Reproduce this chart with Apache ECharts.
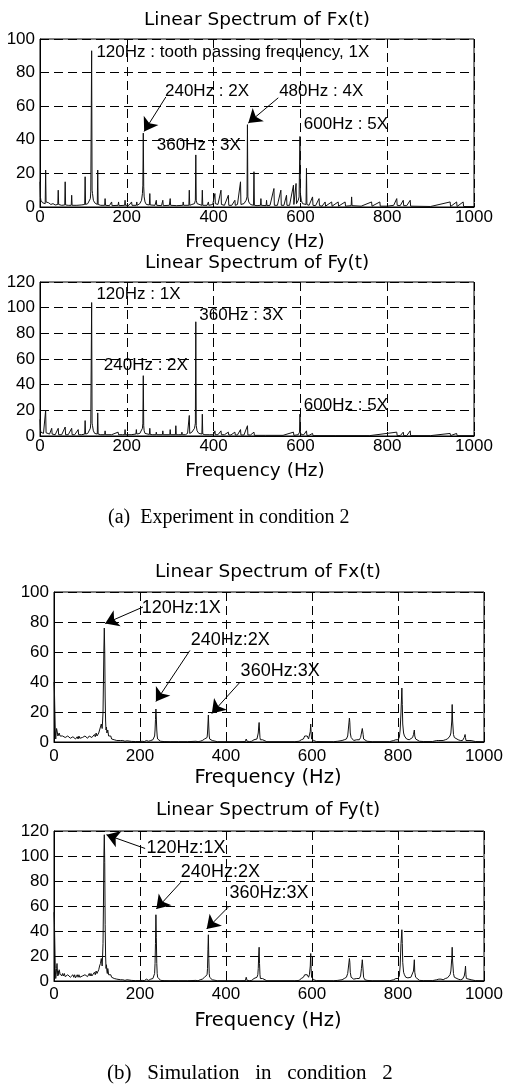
<!DOCTYPE html>
<html><head><meta charset="utf-8">
<script src="https://cdn.jsdelivr.net/npm/echarts@6/dist/echarts.min.js"></script>
<style>html,body{margin:0;padding:0;background:#fff}#c{width:506px;height:1086px}</style>
</head><body><div id="c"></div>
<script>
// ---------- data ----------
const titles = ['Linear Spectrum of Fx(t)', 'Linear Spectrum of Fy(t)', 'Linear Spectrum of Fx(t)', 'Linear Spectrum of Fy(t)'];
const xLabel = 'Frequency (Hz)';
const captions = ['(a)  Experiment in condition 2', '(b)   Simulation   in   condition   2'];
const yMax = [100, 120, 100, 120];

// [frequency Hz, amplitude]
const fxExp = [[0,15],[1,6],[2,4],[4,3],[6,2.5],[8,2],[10,2.5],[12,2],[13,22],[14,3],[16,2],[20,2.5],[25,1.5],[30,2],[35,1.2],[41,1.5],[42,10],[43,1.5],[50,1],[57,1.2],[58,15],[59,1.2],[65,1],[72,1],[73,7],[74,1],[85,1],[95,1.2],[103,1.5],[104,18],[105,1.5],[110,2],[114,3],[116,5],[117,9],[118,10],[119,93],[120,10],[121,8],[123,4],[126,2.5],[130,1.5],[132,1.5],[133,22],[134,1.5],[140,1],[149,1],[150,5],[151,1],[160,0.8],[165,3],[166,0.8],[180,1],[181,3],[182,0.8],[195,1],[196,4],[197,1],[205,1],[211,3],[212,1],[222,1],[223,3],[224,1],[230,2],[234,4],[236,8],[237,13],[238,44],[239,12],[240,6],[242,3],[245,1.5],[252,1.2],[253,8],[254,1.2],[265,1],[268,4],[269,1],[280,0.8],[283,4],[284,0.8],[298,1],[300,5],[301,1],[315,0.8],[329,1],[330,3],[331,1],[343,1],[344,10],[345,1],[350,1.5],[356,2],[358,4],[359,31],[360,4],[362,2],[366,1],[373,1],[374,10],[375,1],[385,1],[388,3],[389,1],[398,1.5],[403,8],[404,2],[410,1.5],[417,10],[418,1.5],[425,1],[434,7],[435,1],[442,1],[449,4],[450,1],[455,1.5],[462,15],[463,1.5],[470,2],[475,4],[477,6],[478,49],[479,6],[481,3],[485,1.5],[492,1],[493,21],[494,1],[500,0.8],[508,1],[509,5],[510,1],[521,0.8],[522,4],[523,0.8],[530,1],[539,11],[540,1],[547,1],[555,10],[556,1],[562,1],[568,7],[569,1],[575,1],[584,13],[585,1.5],[590,14],[591,2],[595,4],[597,6],[599,42],[600,8],[602,4],[605,2],[613,1.5],[614,23],[615,1.5],[620,1],[628,6],[629,1],[635,0.8],[643,5],[644,0.8],[650,0.5],[657,3],[658,0.5],[672,3],[673,0.5],[687,3],[688,0.5],[703,3],[704,0.5],[717,0.8],[718,6],[719,0.8],[740,0.5],[764,3],[765,0.5],[783,3],[784,0.5],[800,0.5],[815,1],[822,5],[823,1],[830,0.8],[837,4],[838,0.8],[845,0.8],[853,4],[854,0.5],[900,0.3],[945,3],[946,0.3],[960,3],[961,0.3],[975,3],[976,0.3],[1000,0.3]];

const fyExp = [[0,13],[1,5],[2,3],[4,2.5],[6,2],[8,2],[10,2.5],[12,2],[13,20],[14,2.5],[18,2],[22,1.5],[27,6],[28,1.5],[35,1],[42,6],[43,1],[50,1],[58,7],[59,1],[65,1],[73,6],[74,1],[80,1],[88,5],[89,1],[96,1],[103,1.5],[104,12],[105,1.5],[110,2],[114,3],[116,6],[117,10],[118,11],[119,104],[120,10],[121,8],[123,4],[126,2],[130,1.5],[132,1.5],[133,18],[134,1.5],[140,1],[149,1],[150,4],[151,1],[165,1],[180,3],[181,1],[190,1],[195,1],[196,5],[197,1],[210,1],[221,1.5],[222,5],[223,1.5],[230,2],[234,3],[236,6],[237,10],[238,47],[239,8],[240,4],[242,2],[246,1.2],[252,1.2],[253,6],[254,1.2],[260,1],[267,1],[268,3],[269,1],[282,1],[283,4],[284,1],[299,1],[300,5],[301,1],[312,1],[313,8],[314,1],[320,1],[326,1],[327,3],[328,1],[335,1],[340,2],[343,2],[344,16],[345,2],[350,3],[354,4],[356,6],[357,8],[358,10],[359,89],[360,8],[362,4],[366,2],[370,1.5],[373,1.5],[374,17],[375,1.5],[380,1],[390,1],[400,1],[403,4],[404,1],[410,1],[417,4],[418,1],[425,1],[434,3],[435,0.8],[440,0.8],[449,3],[450,0.8],[455,0.8],[462,5],[463,0.8],[470,0.8],[478,8],[479,0.8],[485,0.8],[493,3],[494,0.5],[520,0.5],[560,0.5],[584,3],[585,0.5],[595,1],[598,3],[599,17],[600,3],[602,1],[608,1],[614,4],[615,0.5],[620,0.5],[628,2],[629,0.3],[680,0.3],[760,0.3],[822,3],[823,0.3],[830,0.3],[837,3],[838,0.3],[845,0.3],[853,4],[854,0.3],[900,0.3],[945,2],[946,0.3],[960,2],[961,0.3],[1000,0.3]];

const fxSim = [[0,40],[1,34],[2,20],[3,8],[4,2],[5,6],[6,9],[7,10],[8,6],[9,4],[10,5],[11,3],[12,6],[14,4],[16,5],[18,3],[20,4],[22,3],[24,4.5],[26,3],[28,4],[30,2.5],[32,4],[34,3],[36,4],[38,2.5],[40,3.5],[42,2],[44,3.5],[46,2.5],[48,4],[50,2],[52,3],[54,3.5],[56,2],[58,4],[60,2.5],[62,3.5],[64,2],[66,3],[68,4],[70,2.5],[72,4],[74,3],[76,4.5],[78,2.5],[80,3],[82,4],[84,3],[86,5],[88,3],[90,4],[92,3],[94,5],[96,3.5],[98,6],[100,4],[102,5],[104,6],[106,8],[108,10],[110,12],[112,9],[113,14],[114,20],[115,40],[116,62],[117,76],[118,60],[119,30],[120,14],[121,8],[122,10],[123,6],[124,5],[125,8],[126,7],[127,4],[128,5],[130,3],[132,4],[134,2],[136,3],[138,2],[140,1.5],[143,2],[146,1],[150,1.5],[155,1],[160,1],[165,0.5],[170,0.8],[180,0.4],[190,0.3],[200,0.3],[205,0.5],[210,0.3],[215,1],[220,0.5],[225,1],[228,0.8],[230,1.5],[232,2],[234,4],[235,8],[236,15],[237,22],[238,16],[239,8],[240,4],[241,2],[243,1.5],[245,1],[248,0.5],[252,1],[256,0.3],[270,0.2],[290,0.2],[310,0.2],[330,0.5],[335,0.2],[340,0.5],[345,1],[348,1.5],[350,2],[352,1.5],[354,2.5],[356,3],[357,6],[358,12],[359,18],[360,10],[361,4],[362,2],[364,1.5],[366,2],[368,1],[372,0.5],[380,0.2],[430,0.2],[445,0.3],[447,2],[449,0.5],[455,0.3],[460,0.5],[465,1.5],[468,1],[472,2],[474,3],[475,6],[476,10],[477,13],[478,8],[479,3],[480,1.5],[482,1],[485,1.5],[488,0.5],[495,0.2],[560,0.2],[570,0.5],[575,1.5],[578,1],[580,2],[583,4],[585,5],[587,3],[589,4],[592,2],[594,3],[596,7],[597,12],[598,6],[599,2],[601,1.5],[604,1],[610,0.3],[650,0.2],[660,0.5],[670,1],[675,1.5],[680,2],[683,4],[685,10],[687,16],[688,13],[689,6],[691,3],[693,2],[697,1],[700,2],[704,1.5],[710,1.5],[713,3],[715,6],[717,9],[719,5],[720,2],[723,1],[728,0.5],[740,0.2],[780,0.2],[790,1],[795,1.5],[800,1.5],[803,3],[805,8],[807,20],[809,36],[810,25],[811,12],[813,6],[815,4],[818,3],[820,2],[823,2],[826,1.5],[830,2],[834,3],[836,5],[838,8],[839,4],[841,2],[845,1],[850,0.5],[860,0.3],[880,0.3],[890,1],[895,1],[900,1],[905,1],[910,1.5],[915,2],[918,3],[921,4],[923,6],[925,14],[926,25],[927,14],[929,5],[931,3],[934,2],[940,1.5],[945,1],[950,1],[954,3],[956,5],[957,3],[958,1],[962,0.5],[970,1],[980,0.3],[1000,0.2]];

const fySim = [[0,55],[1,46],[2,28],[3,10],[4,2],[5,5],[6,10],[7,14],[8,8],[9,4],[10,8],[11,5],[12,9],[14,6],[16,7],[18,4],[20,6],[22,4],[24,6],[26,3.5],[28,5],[30,3],[32,5],[34,3.5],[36,5],[38,3],[40,4.5],[42,3],[44,5],[46,3],[48,5],[50,2.5],[52,4],[54,5],[56,3],[58,5],[60,3],[62,4.5],[64,3],[66,4],[68,5],[70,3],[72,5],[74,4],[76,6],[78,3.5],[80,4],[82,6],[84,4],[86,6],[88,4],[90,5],[92,4],[94,7],[96,5],[98,8],[100,6],[102,7],[104,9],[106,12],[108,14],[110,18],[112,12],[113,20],[114,30],[115,60],[116,100],[117,117],[118,95],[119,45],[120,20],[121,10],[122,13],[123,8],[124,6],[125,10],[126,8],[127,5],[128,6],[130,4],[132,5],[134,3],[136,3.5],[138,2],[140,2],[143,2.5],[146,1.5],[150,2],[155,1],[160,1],[165,0.5],[170,1],[180,0.5],[190,0.3],[200,0.3],[205,0.5],[210,0.3],[215,1.5],[220,0.5],[225,1.5],[228,1],[230,2],[232,3],[234,6],[235,14],[236,30],[237,53],[238,35],[239,14],[240,6],[241,3],[243,2],[245,1.5],[248,0.5],[252,1],[256,0.3],[270,0.2],[290,0.2],[310,0.2],[330,0.5],[335,0.2],[340,1],[345,1.5],[348,2],[350,3],[352,2.5],[354,4],[356,5],[357,10],[358,25],[359,37],[360,18],[361,6],[362,3],[364,2],[366,3],[368,1],[372,0.5],[380,0.2],[430,0.2],[445,0.3],[447,3],[449,0.5],[455,0.3],[460,0.5],[465,2],[468,1.5],[472,3],[474,5],[475,10],[476,20],[477,27],[478,14],[479,5],[480,2],[482,1.5],[485,2],[488,0.5],[495,0.2],[560,0.2],[570,0.5],[575,2],[578,1.5],[580,3],[583,5],[585,6],[587,4],[589,5],[592,3],[594,5],[596,12],[597,22],[598,10],[599,3],[601,2],[604,1],[610,0.3],[650,0.2],[660,0.5],[670,1],[675,2],[680,3],[683,6],[685,12],[687,18],[688,15],[689,7],[691,3],[693,2],[697,1.5],[700,2.5],[704,2],[710,2],[713,4],[715,10],[717,17],[719,8],[720,3],[723,1],[728,0.5],[740,0.2],[780,0.2],[790,1],[795,2],[800,2],[803,4],[805,12],[807,30],[809,41],[810,30],[811,15],[813,7],[815,5],[818,3],[820,3],[823,2.5],[826,2],[830,3],[834,4],[836,8],[838,17],[839,7],[841,3],[845,1.5],[850,0.5],[860,0.3],[880,0.3],[890,1],[895,1.5],[900,1.5],[905,1],[910,2],[915,2.5],[918,4],[921,5],[923,8],[925,18],[926,27],[927,16],[929,6],[931,3],[934,2],[940,1.5],[945,1],[950,1.5],[954,4],[956,8],[957,12],[958,5],[959,2],[962,0.5],[970,1],[980,0.3],[1000,0.2]];

// annotations: [x, y, text]
const fxExpNotes = [[130,92,'120Hz : tooth passing frequency, 1X'],[288,69,'240Hz : 2X'],[551,69,'480Hz : 4X'],[269,36.5,'360Hz : 3X'],[608,49,'600Hz : 5X']];
const fyExpNotes = [[130,110.6,'120Hz : 1X'],[367,94,'360Hz : 3X'],[147,55,'240Hz : 2X'],[608,24,'600Hz : 5X']];
const fxSimNotes = [[204,89,'120Hz:1X'],[318,68,'240Hz:2X'],[434,47,'360Hz:3X']];
const fySimNotes = [[215,106,'120Hz:1X'],[295,87,'240Hz:2X'],[408,70,'360Hz:3X']];
// arrows: [[fromX, fromY], [toX, toY]]
const fxExpArrows = [[[290,65.5],[240,45]],[[549,65],[480,50]]];
const fyExpArrows = [];
const fxSimArrows = [[[207,90],[119,79]],[[316,61],[237,27]],[[433,40],[367,19]]];
const fySimArrows = [[[212,106],[122,117]],[[295,79],[238,57.6]],[[405,59],[355,41.6]]];

// ---------- layout ----------
const grids = [
  {left:40, top:39, width:434, height:168},
  {left:40, top:282, width:434, height:154},
  {left:54, top:592, width:430, height:150},
  {left:54, top:831, width:430, height:150}
];
const xLabelMargin = [2, 2, 6, 5];
const titlePos = [[257,20],[257,263],[268,572],[268,810]];
const xLabelPos = [[255,242],[255,471],[268,778],[268,1021]];
const noteSize = [17, 17, 18, 18];

const SANS = '"Liberation Sans", Arial, sans-serif';
const dashed = {show:true, lineStyle:{color:'#000', width:1, type:[9,5]}};

const series = [];
const allData = [fxExp, fyExp, fxSim, fySim];
const allNotes = [fxExpNotes, fyExpNotes, fxSimNotes, fySimNotes];
const allArrows = [fxExpArrows, fyExpArrows, fxSimArrows, fySimArrows];

allData.forEach((d, i) => {
  series.push({
    type:'line', xAxisIndex:i, yAxisIndex:i, data:d, showSymbol:false, symbol:'none',
    lineStyle:{color:'#111', width:1}, animation:false, silent:true, z:3,
    markLine: allArrows[i].length ? {
      silent:true, animation:false, symbol:['none','arrow'], symbolSize:13,
      label:{show:false}, lineStyle:{color:'#000', width:1, type:'solid', opacity:1},
      itemStyle:{color:'#000'},
      emphasis:{disabled:true},
      data: allArrows[i].map(a => [{coord:a[0]}, {coord:a[1]}])
    } : undefined
  });
  series.push({
    type:'scatter', xAxisIndex:i, yAxisIndex:i, symbolSize:0, animation:false, silent:true, z:5,
    itemStyle:{opacity:1},
    data: allNotes[i],
    label:{show:true, position:'right', distance:0, color:'#000', opacity:1, fontFamily:SANS, fontSize:noteSize[i],
      formatter: p => p.value[2]}
  });
});

const graphic = [];
titles.forEach((t, i) => {
  graphic.push({type:'text', x:titlePos[i][0], y:titlePos[i][1],
    style:{text:t, fill:'#000', font:'18.5px "DejaVu Sans"', textAlign:'center', textVerticalAlign:'middle', align:'center', verticalAlign:'middle'}});
  graphic.push({type:'text', x:xLabelPos[i][0], y:xLabelPos[i][1],
    style:{text:xLabel, fill:'#000', font:(i<2?'18.5px':'19.5px')+' "DejaVu Sans"', textAlign:'center', textVerticalAlign:'middle', align:'center', verticalAlign:'middle'}});
});
graphic.push({type:'text', x:108, y:518, style:{text:captions[0], fill:'#000', font:'20px "Liberation Serif"', textAlign:'left', textVerticalAlign:'middle', align:'left', verticalAlign:'middle'}});
graphic.push({type:'text', x:107, y:1073, style:{text:captions[1], fill:'#000', font:'21px "Liberation Serif"', textAlign:'left', textVerticalAlign:'middle', align:'left', verticalAlign:'middle'}});

const option = {
  animation:false,
  backgroundColor:'#fff',
  grid: grids.map(g => Object.assign({show:true, borderColor:'#000', borderWidth:1, backgroundColor:'transparent'}, g)),
  xAxis: grids.map((g, i) => ({
    type:'value', gridIndex:i, min:0, max:1000, interval:200,
    axisLine:{show:true, lineStyle:{color:'#000', width:1}},
    axisTick:{show:true, inside:true, length:4, lineStyle:{color:'#000'}},
    axisLabel:{color:'#000', fontFamily:SANS, fontSize:17, margin:xLabelMargin[i], formatter: v => String(v)},
    splitLine: dashed
  })),
  yAxis: grids.map((g, i) => ({
    type:'value', gridIndex:i, min:0, max:yMax[i], interval:20,
    axisLine:{show:true, lineStyle:{color:'#000', width:1}},
    axisTick:{show:true, inside:true, length:4, lineStyle:{color:'#000'}},
    axisLabel:{color:'#000', fontFamily:SANS, fontSize:17, margin:5, formatter: v => String(v)},
    splitLine: dashed
  })),
  series, graphic
};
const chart = echarts.init(document.getElementById('c'), null, {renderer:'canvas'});
chart.setOption(option);
</script></body></html>
